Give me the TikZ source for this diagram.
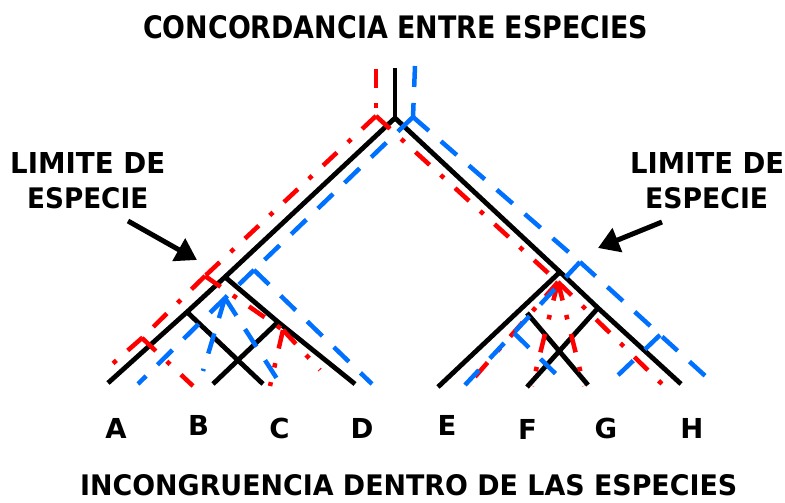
\documentclass[tikz,border=0pt]{standalone}
\usepackage{fontspec}
\setmainfont{DejaVu Sans}
\newfontfamily\condf{DejaVu Sans Condensed}
\usetikzlibrary{arrows.meta}
\definecolor{gblue}{RGB}{0,112,255}
\definecolor{gred}{RGB}{255,0,0}
\newcommand{\fitcond}[3]{\resizebox{#1pt}{#2pt}{\condf\bfseries #3}}
\newcommand{\fitbold}[3]{\resizebox{#1pt}{#2pt}{\bfseries #3}}
\begin{document}
\begin{tikzpicture}[x=1pt,y=-1pt,
  sp/.style={line width=4.8pt, black, line cap=butt, line join=miter},
  redg/.style={line width=4.5pt, gred, line cap=butt, dash pattern=on 19pt off 15pt on 4.5pt off 15pt},
  blueg/.style={line width=4.5pt, gblue, line cap=butt, dash pattern=on 21pt off 16pt},
  txt/.style={inner sep=0pt, anchor=base west},
  tiplabel/.style={inner sep=0pt, anchor=base, font=\fontsize{27.5}{30}\selectfont\bfseries},
  pointer/.style={line width=5pt, black, -{Triangle[length=21pt,width=25pt]}}
]
\useasboundingbox (0,0) rectangle (785,503);

% ---------- species tree (black) ----------
\coordinate (top) at (395,68);
\coordinate (R) at (395,118);
\coordinate (nL) at (225,277);
\coordinate (n1) at (187,312);
\coordinate (A) at (108,383);
\coordinate (n2) at (278,322);
\coordinate (D) at (355,384);
\coordinate (tC) at (263,384);
\coordinate (tB) at (213,384);
\coordinate (nR) at (560,272);
\coordinate (n3) at (598,308);
\coordinate (H) at (681,384);
\coordinate (E) at (438,387);
\coordinate (tF) at (527,387);
\coordinate (s1) at (527,313);
\coordinate (tG) at (588,385);

\draw[sp] (top) -- (R);
\draw[sp] (R) -- (nL) -- (n1) -- (A);
\draw[sp] (nL) -- (n2) -- (D);
\draw[sp] (n1) -- (tC);
\draw[sp] (n2) -- (tB);
\draw[sp] (R) -- (nR) -- (n3) -- (H);
\draw[sp] (nR) -- (E);
\draw[sp] (n3) -- (tF);
\draw[sp] (s1) -- (tG);

% ---------- red gene tree ----------
\coordinate (rTop) at (376,69);
\coordinate (rR) at (376,116);
\coordinate (rL) at (205,276);
\coordinate (rAB) at (142,338);
\coordinate (rA) at (102,373);
\coordinate (rB) at (193,386);
\coordinate (rCD) at (283,330);
\coordinate (rC) at (270,386);
\coordinate (rD) at (320,370);
\coordinate (rN) at (558,282);
\coordinate (rE) at (467,386);
\coordinate (rF) at (532,386);
\coordinate (rG) at (584,386);
\coordinate (rH) at (664,386);

\draw[redg] (rTop) -- (rR);
\draw[redg] (rR) -- (rL);
\draw[redg] (rL) -- (rAB);
\draw[redg] (rAB) -- (rA);
\draw[redg] (rAB) -- (rB);
\draw[redg] (rL) -- (rCD);
\draw[redg] (rCD) -- (rC);
\draw[redg] (rCD) -- (rD);
\draw[redg] (rR) -- (rN);
\draw[redg] (rN) -- (rE);
\draw[redg] (rN) -- (rF);
\draw[redg] (rN) -- (rG);
\draw[redg] (rN) -- (rH);

% ---------- blue gene tree ----------
\coordinate (bTop) at (415,66);
\coordinate (bR) at (413,117);
\coordinate (bL) at (254,270);
\coordinate (bD) at (372,384);
\coordinate (bABC) at (225,298);
\coordinate (bA) at (138,384);
\coordinate (bB) at (203,371);
\coordinate (bC) at (281,385);
\coordinate (bRN) at (580,262);
\coordinate (bH) at (713,383);
\coordinate (bE) at (465,385);
\coordinate (bEF) at (514,333);
\coordinate (bF) at (562,380);
\coordinate (bGH) at (660,335);
\coordinate (bG) at (613,380);

\draw[blueg] (bTop) -- (bR);
\draw[blueg] (bR) -- (bL);
\draw[blueg] (bL) -- (bD);
\draw[blueg] (bL) -- (bABC);
\draw[blueg] (bABC) -- (bA);
\draw[blueg] (bABC) -- (bB);
\draw[blueg] (bABC) -- (bC);
\draw[blueg] (bR) -- (bRN);
\draw[blueg] (bRN) -- (bH);
\draw[blueg] (bRN) -- (bE);
\draw[blueg] (bEF) -- (bF);
\draw[blueg] (bGH) -- (bG);

% ---------- texts ----------
\node[txt] (title) at (143,38) {\fitcond{505}{23}{CONCORDANCIA ENTRE ESPECIES}};
\node[txt] (bottomtitle) at (80,495) {\fitcond{657}{21}{INCONGRUENCIA DENTRO DE LAS ESPECIES}};
\node[txt] (limL1) at (10,173) {\fitbold{155}{21}{LIMITE DE}};
\node[txt] (limL2) at (27,208) {\fitbold{121}{21}{ESPECIE}};
\node[txt] (limR1) at (630,173) {\fitbold{154}{21}{LIMITE DE}};
\node[txt] (limR2) at (645,208) {\fitbold{123}{21}{ESPECIE}};

\node[tiplabel] (labA) at (116,438) {A};
\node[tiplabel] (labB) at (198.5,435) {B};
\node[tiplabel] (labC) at (279.5,438) {C};
\node[tiplabel] (labD) at (362,438) {D};
\node[tiplabel] (labE) at (447,435) {E};
\node[tiplabel] (labF) at (527.5,439) {F};
\node[tiplabel] (labG) at (606,438) {G};
\node[tiplabel] (labH) at (692,438) {H};

% ---------- pointers ----------
\coordinate (aLtail) at (128,221);
\coordinate (aLtip) at (197,260);
\coordinate (aRtail) at (662,222);
\coordinate (aRtip) at (598,248);
\draw[pointer] (aLtail) -- (aLtip);
\draw[pointer] (aRtail) -- (aRtip);
\end{tikzpicture}
\end{document}
